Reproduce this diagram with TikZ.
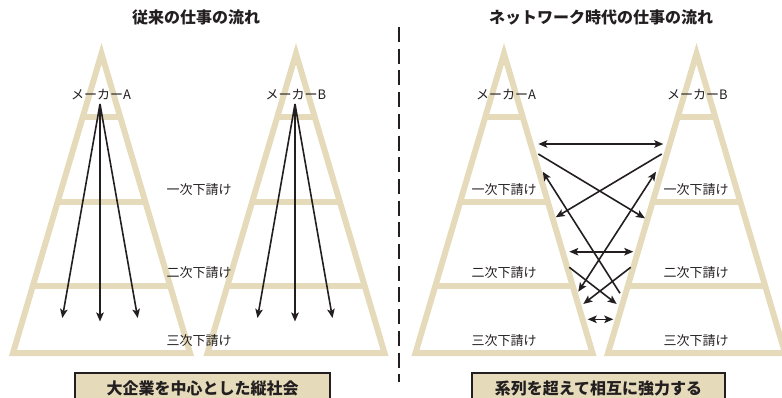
\documentclass[tikz,border=0pt]{standalone}
\usepackage{fontspec}
\setmainfont{Noto Sans CJK JP}
\usetikzlibrary{arrows.meta}
\definecolor{beige}{HTML}{E5DBBA}
\definecolor{ink}{HTML}{231F20}
\newcommand\pyramidAt[1]{%
  \draw[pyr] (#1,53.6) -- (#1-88.5,353) -- (#1+88.5,353) -- cycle;
  \draw[pyr] (#1-18.6,116.5) -- (#1+18.6,116.5);
  \draw[pyr] (#1-43.85,202) -- (#1+43.85,202);
  \draw[pyr] (#1-68.5,285.5) -- (#1+68.5,285.5);
}
\begin{document}
\begin{tikzpicture}[x=1pt,y=-1pt,
  pyr/.style={draw=beige, line width=6pt, line join=miter},
  lbl/.style={text=ink, inner sep=0pt, font=\fontsize{13}{14}\selectfont},
  ttl/.style={text=ink, inner sep=0pt, font=\fontsize{16}{18}\selectfont\bfseries},
  arr/.style={draw=ink, line width=1.6pt, -{Stealth[length=9pt,width=7.5pt,inset=2pt]}},
  darr/.style={draw=ink, line width=1.6pt, {Stealth[length=9pt,width=7.5pt,inset=2pt]}-{Stealth[length=9pt,width=7.5pt,inset=2pt]}},
  box/.style={draw=ink, line width=2pt, fill=beige, text=ink, anchor=north, minimum height=30pt, inner sep=0pt, font=\fontsize{16}{18}\selectfont\bfseries}
]
\useasboundingbox (0,0) rectangle (782,397);
% titles
\node[ttl] (t1) at (196,17) {従来の仕事の流れ};
\node[ttl] (t2) at (601,17) {ネットワーク時代の仕事の流れ};
% divider
\coordinate (d1) at (399,27);
\coordinate (d2) at (399,382);
\draw[ink, line width=2pt, dash pattern=on 15pt off 6.7pt] (d1) -- (d2);
% pyramids
\pyramidAt{101.5}
\pyramidAt{296}
\pyramidAt{504}
\pyramidAt{696.5}
% left labels
\node[lbl] (lmA) at (101,95) {メーカーA};
\node[lbl] (lmB) at (296,95) {メーカーB};
\node[lbl] (l1) at (199,190) {一次下請け};
\node[lbl] (l2) at (199,272.7) {二次下請け};
\node[lbl] (l3) at (199,341) {三次下請け};
% right labels
\node[lbl] (rmA) at (506,95) {メーカーA};
\node[lbl] (rmB) at (697.5,95) {メーカーB};
\node[lbl] (ra1) at (504,190) {一次下請け};
\node[lbl] (ra2) at (504,272.7) {二次下請け};
\node[lbl] (ra3) at (504,341) {三次下請け};
\node[lbl] (rb1) at (696,190) {一次下請け};
\node[lbl] (rb2) at (696,272.7) {二次下請け};
\node[lbl] (rb3) at (696,341) {三次下請け};
% left arrows
\coordinate (sA) at (100,104);
\coordinate (eA1) at (62.3,318);
\coordinate (eA2) at (100,321.5);
\coordinate (eA3) at (137.7,318);
\draw[arr] (sA) -- (eA1);
\draw[arr] (sA) -- (eA2);
\draw[arr] (sA) -- (eA3);
\coordinate (sB) at (295,104);
\coordinate (eB1) at (257.5,318);
\coordinate (eB2) at (295,321.5);
\coordinate (eB3) at (332.5,318);
\draw[arr] (sB) -- (eB1);
\draw[arr] (sB) -- (eB2);
\draw[arr] (sB) -- (eB3);
% right arrows
\coordinate (p1a) at (538.3,144);   \coordinate (p1b) at (663.3,144);
\coordinate (p2a) at (538.3,154);   \coordinate (p2b) at (645,218.3);
\coordinate (p3a) at (661.7,154);   \coordinate (p3b) at (555.7,217.3);
\coordinate (p4a) at (620,293.3);   \coordinate (p4b) at (542.7,171.7);
\coordinate (p5a) at (578.3,291.7); \coordinate (p5b) at (656,171.7);
\coordinate (p6a) at (569.3,251.7); \coordinate (p6b) at (633.3,251.7);
\coordinate (p7a) at (569.3,267.3); \coordinate (p7b) at (616.7,304);
\coordinate (p8a) at (630.7,267.3); \coordinate (p8b) at (583.3,304);
\coordinate (p9a) at (587.7,319.3); \coordinate (p9b) at (613.3,319.3);
\draw[darr] (p1a) -- (p1b);
\draw[arr] (p2a) -- (p2b);
\draw[arr] (p3a) -- (p3b);
\draw[arr] (p4a) -- (p4b);
\draw[darr] (p5a) -- (p5b);
\draw[darr] (p6a) -- (p6b);
\draw[arr] (p7a) -- (p7b);
\draw[arr] (p8a) -- (p8b);
\draw[darr] (p9a) -- (p9b);
% bottom boxes
\node[box, minimum width=255pt] (bx1) at (202.5,372) {大企業を中心とした縦社会};
\node[box, minimum width=253pt] (bx2) at (598.5,372) {系列を超えて相互に強力する};
\end{tikzpicture}
\end{document}
